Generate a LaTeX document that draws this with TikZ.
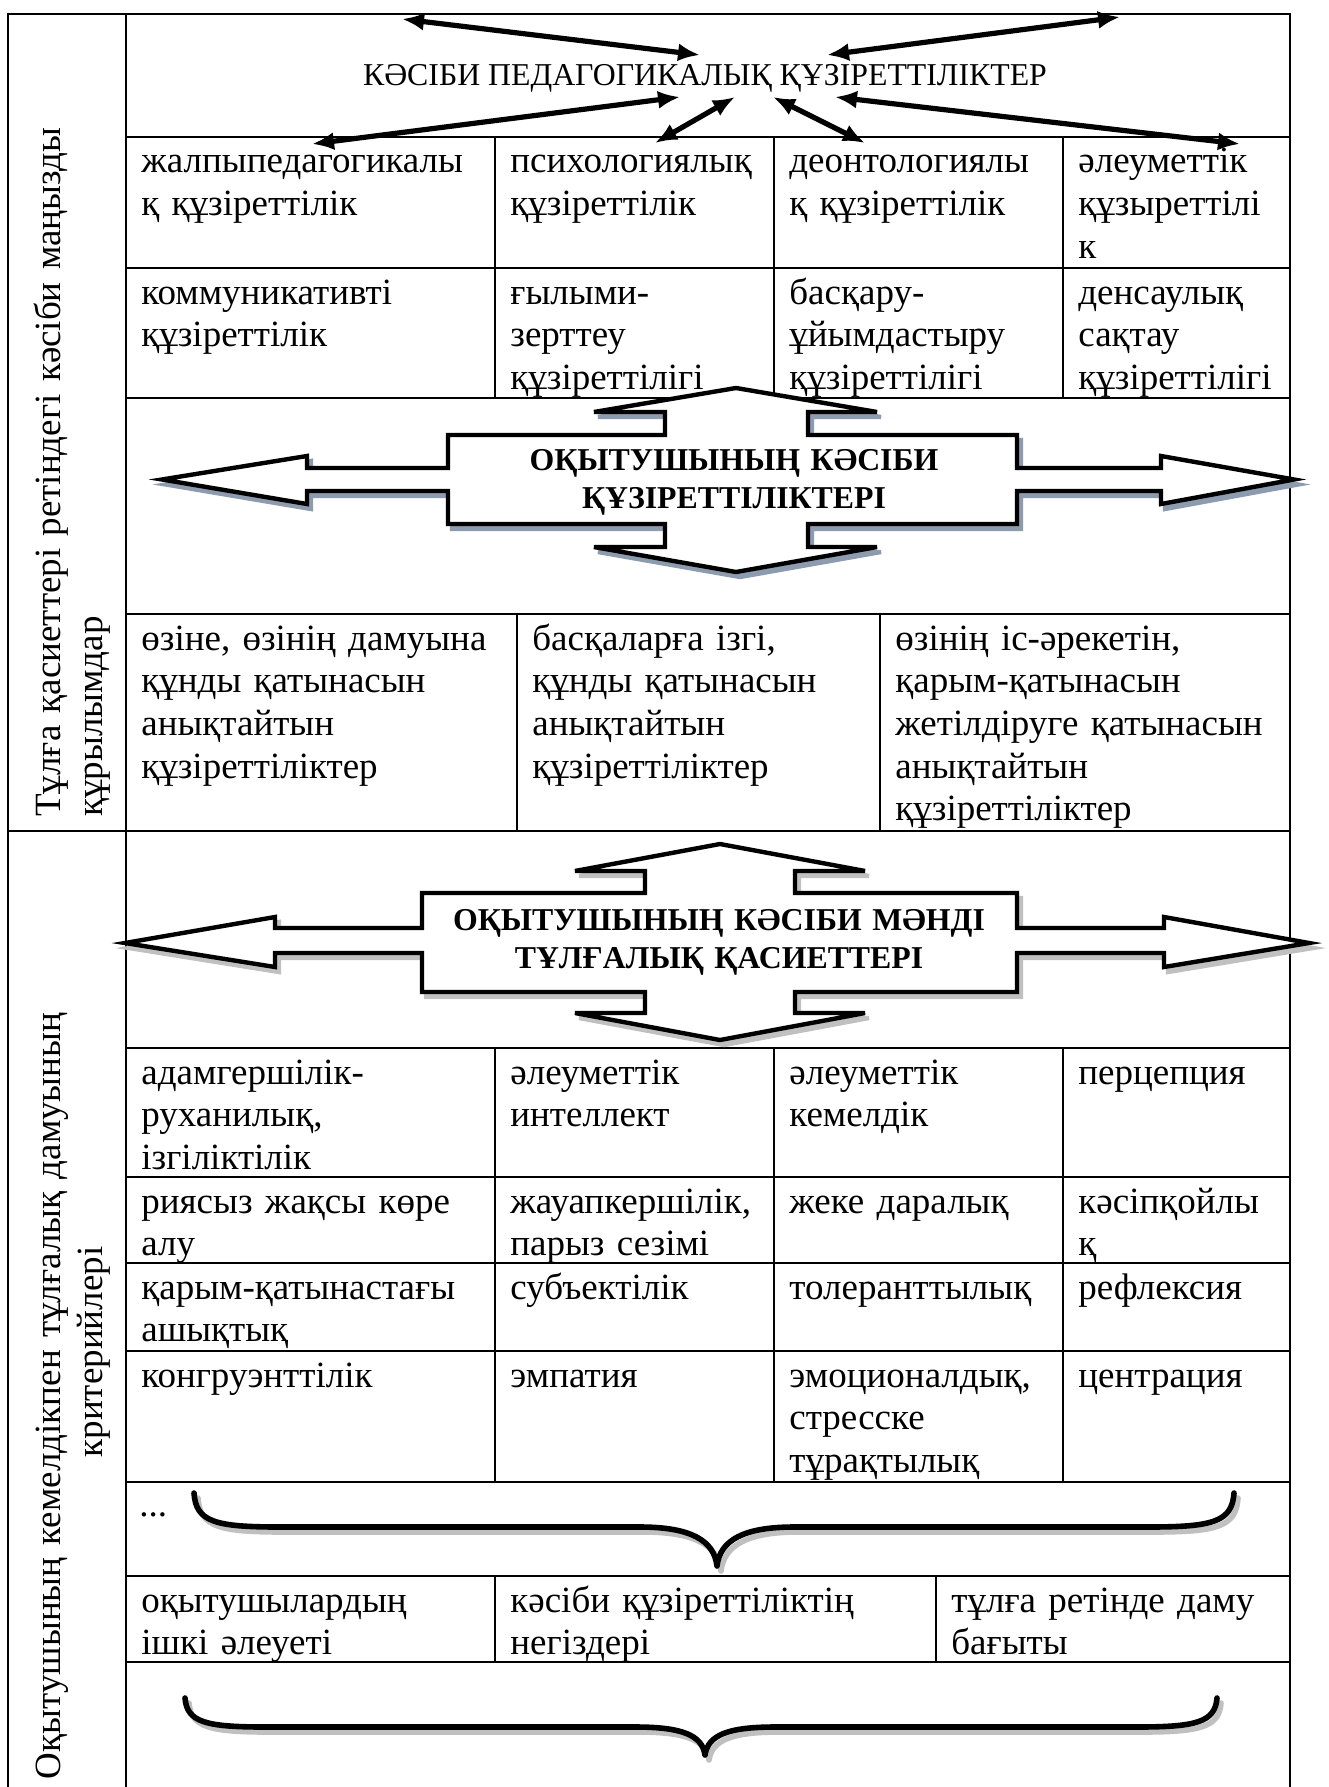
\documentclass[tikz,border=0pt]{standalone}
\usepackage{fontspec}
\setmainfont{Liberation Serif}
\usepackage{tikz}
\usetikzlibrary{arrows.meta}

\definecolor{shadowblue}{RGB}{141,155,174}
\definecolor{shadowgray}{RGB}{192,192,192}
\newcommand{\cellfont}{\fontsize{18.5pt}{21.35pt}\selectfont}
\newcommand{\headfont}{\fontsize{15.9pt}{19pt}\selectfont}

\tikzset{
  grid/.style={line width=1pt},
  cell/.style={anchor=base west,align=left,inner sep=0pt,text width=200pt,font=\cellfont},
  side/.style={rotate=90,inner sep=0pt,font=\cellfont},
  title/.style={anchor=base,align=center,inner sep=0pt,text width=280pt,font=\headfont\bfseries},
  quad/.style={line width=2.2pt,fill=white,line join=miter},
  quadshadow/.style={line width=2.2pt,line join=miter,shift={(4,5)}},
  biarrow/.style={line width=2.6pt,{Latex[length=11pt,width=9pt]}-{Latex[length=11pt,width=9pt]}},
  brace/.style={line width=2.8pt,line cap=round,line join=round},
}

\def\quadA{(162,479.5) -- (307,456) -- (307,468) -- (448,468) -- (448,435) -- (665,435) -- (665,412) -- (594,412) -- (736,388) -- (877,412) -- (808,412) -- (808,435) -- (1017,435) -- (1017,468) -- (1161,468) -- (1161,456) -- (1294,479.5) -- (1161,504) -- (1161,491) -- (1017,491) -- (1017,524) -- (808,524) -- (808,547) -- (877,547) -- (736,572) -- (594,547) -- (665,547) -- (665,524) -- (448,524) -- (448,491) -- (307,491) -- (307,504) -- cycle}
\def\quadB{(125,943) -- (275,917) -- (275,928) -- (422,928) -- (422,893) -- (645,893) -- (645,871) -- (575,871) -- (720,844) -- (865,871) -- (795,871) -- (795,893) -- (1017,893) -- (1017,928) -- (1164,928) -- (1164,917) -- (1309,943) -- (1164,967) -- (1164,953) -- (1017,953) -- (1017,992) -- (795,992) -- (795,1013) -- (865,1013) -- (720,1040) -- (575,1013) -- (645,1013) -- (645,992) -- (422,992) -- (422,953) -- (275,953) -- (275,967) -- cycle}
\def\braceA{(194,1493) .. controls (196,1522) and (215,1527) .. (280,1527) -- (640,1527) .. controls (690,1527) and (714,1540) .. (717,1566) .. controls (720,1540) and (744,1527) .. (794,1527) -- (1148,1527) .. controls (1213,1527) and (1232,1522) .. (1234,1493)}
\def\braceB{(185,1698) .. controls (187,1722) and (205,1727) .. (265,1727) -- (635,1727) .. controls (682,1727) and (702,1735) .. (705,1755) .. controls (708,1735) and (728,1727) .. (775,1727) -- (1137,1727) .. controls (1197,1727) and (1215,1722) .. (1217,1698)}

\begin{document}
\begin{tikzpicture}[x=0.5pt,y=-0.5pt]
\useasboundingbox (0,0) rectangle (1328,1787);

% Frame and table lines
\draw[grid] (8,1787) -- (8,14) -- (1290,14) -- (1290,1787);
\draw[grid] (126,14) -- (126,1787);
\draw[grid] (8,831) -- (126,831);
\foreach \y in {137,268,398,614,831,1048,1177,1263,1351,1482,1576,1662}
  \draw[grid] (126,\y) -- (1290,\y);
\foreach \x in {495,774,1063} {
  \draw[grid] (\x,137) -- (\x,398);
  \draw[grid] (\x,1048) -- (\x,1482);
}
\foreach \x in {517,880}
  \draw[grid] (\x,614) -- (\x,831);
\foreach \x in {495,936}
  \draw[grid] (\x,1576) -- (\x,1662);

% Left column
\node[side,anchor=base west,align=left,text width=360pt] (sideA) at (60,817)
  {\makebox[334pt][s]{Тұлға қасиеттері ретіндегі кәсіби маңызды}\\құрылымдар};
\node[side,anchor=base,align=center,text width=440pt] (sideB) at (60,1352)
  {\makebox[427pt][s]{Оқытушының кемелдікпен тұлғалық дамуының}\\критерийлері};

% Header
\node[anchor=base,inner sep=0pt,font=\headfont] (head) at (705,86)
  {КӘСІБИ ПЕДАГОГИКАЛЫҚ ҚҰЗІРЕТТІЛІКТЕР};
\coordinate (a1) at (402,19);  \coordinate (b1) at (700,55);
\coordinate (a2) at (1120,17); \coordinate (b2) at (827,55);
\coordinate (a3) at (312,144); \coordinate (b3) at (680,97);
\coordinate (a4) at (655,143); \coordinate (b4) at (735,97);
\coordinate (a5) at (865,143); \coordinate (b5) at (773,97);
\coordinate (a6) at (1240,144);\coordinate (b6) at (835,97);
\foreach \i in {1,...,6}
  \draw[biarrow] (a\i) -- (b\i);

% Competences
\node[cell] (c11) at (141,173) {жалпыпедагогикалы\\қ құзіреттілік};
\node[cell] (c12) at (510,173) {психологиялық\\құзіреттілік};
\node[cell] (c13) at (789,173) {деонтологиялы\\қ құзіреттілік};
\node[cell] (c14) at (1078,173) {әлеуметтік\\құзыреттілі\\к};
\node[cell] (c21) at (141,304) {коммуникативті\\құзіреттілік};
\node[cell] (c22) at (510,304) {ғылыми-\\зерттеу\\құзіреттілігі};
\node[cell] (c23) at (789,304) {басқару-\\ұйымдастыру\\құзіреттілігі};
\node[cell] (c24) at (1078,304) {денсаулық\\сақтау\\құзіреттілігі};

% First quad arrow
\filldraw[quadshadow,shadowblue] \quadA;
\draw[quad] \quadA;
\node[title] (titleA) at (734,470) {ОҚЫТУШЫНЫҢ КӘСІБИ\\ҚҰЗІРЕТТІЛІКТЕРІ};

\node[cell] (c31) at (141,650) {өзіне, өзінің дамуына\\құнды қатынасын\\анықтайтын\\құзіреттіліктер};
\node[cell] (c32) at (532,650) {басқаларға ізгі,\\құнды қатынасын\\анықтайтын\\құзіреттіліктер};
\node[cell] (c33) at (895,650) {өзінің іс-әрекетін,\\қарым-қатынасын\\жетілдіруге қатынасын\\анықтайтын\\құзіреттіліктер};

% Second quad arrow
\filldraw[quadshadow,shadowgray] \quadB;
\draw[quad] \quadB;
\node[title] (titleB) at (719,930) {ОҚЫТУШЫНЫҢ КӘСІБИ МӘНДІ\\ТҰЛҒАЛЫҚ ҚАСИЕТТЕРІ};

% Qualities
\node[cell] (q11) at (141,1084) {адамгершілік-\\руханилық,\\ізгіліктілік};
\node[cell] (q12) at (510,1084) {әлеуметтік\\интеллект};
\node[cell] (q13) at (789,1084) {әлеуметтік\\кемелдік};
\node[cell] (q14) at (1078,1084) {перцепция};
\node[cell] (q21) at (141,1213) {риясыз жақсы көре\\алу};
\node[cell] (q22) at (510,1213) {жауапкершілік,\\парыз сезімі};
\node[cell] (q23) at (789,1213) {жеке даралық};
\node[cell] (q24) at (1078,1213) {кәсіпқойлы\\қ};
\node[cell] (q31) at (141,1299) {қарым-қатынастағы\\ашықтық};
\node[cell] (q32) at (510,1299) {субъектілік};
\node[cell] (q33) at (789,1299) {толеранттылық};
\node[cell] (q34) at (1078,1299) {рефлексия};
\node[cell] (q41) at (141,1387) {конгруэнттілік};
\node[cell] (q42) at (510,1387) {эмпатия};
\node[cell] (q43) at (789,1387) {эмоционалдық,\\стресске\\тұрақтылық};
\node[cell] (q44) at (1078,1387) {центрация};
\node[cell] (dots) at (139,1516) {...};

% Braces
\draw[brace,shadowgray,shift={(4,5)}] \braceA;
\draw[brace] \braceA;

\node[cell] (b1) at (141,1612) {оқытушылардың\\ішкі әлеуеті};
\node[cell] (b2) at (510,1612) {кәсіби құзіреттіліктің\\негіздері};
\node[cell] (b3) at (951,1612) {тұлға ретінде даму\\бағыты};

\draw[brace,shadowgray,shift={(4,5)}] \braceB;
\draw[brace] \braceB;
\end{tikzpicture}
\end{document}
